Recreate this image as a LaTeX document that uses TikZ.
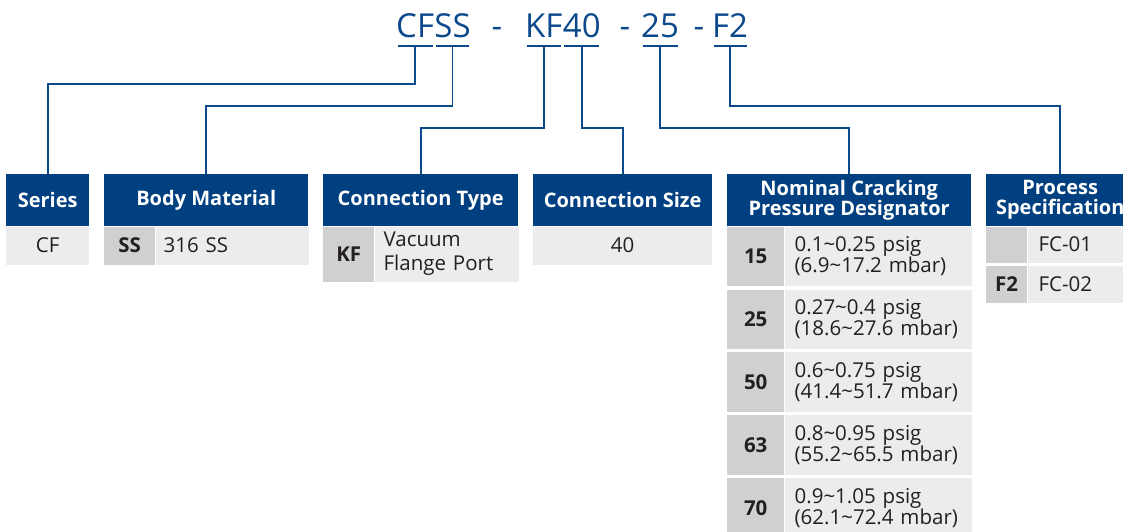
\documentclass[tikz,border=0pt]{standalone}
\usepackage{fontspec}
\setmainfont{Open Sans}
\usetikzlibrary{positioning}
\definecolor{navy}{RGB}{0,64,128}
\definecolor{codeblue}{RGB}{12,72,140}
\definecolor{codegray}{RGB}{208,208,210}
\definecolor{valgray}{RGB}{235,236,238}
\definecolor{ink}{RGB}{35,31,32}

\begin{document}
\begin{tikzpicture}[x=1pt, y=-1pt,
                part/.style={text=codeblue, font=\fontsize{33}{33}\selectfont, inner sep=0pt, anchor=base west},
                header/.style={fill=navy, text=white, font=\fontsize{20}{20}\selectfont\bfseries, align=center, inner sep=0pt, minimum height=52pt, anchor=north west},
                codecell/.style={fill=codegray, text=ink, font=\fontsize{20.5}{21}\selectfont\bfseries, inner sep=0pt},
                valcell/.style={fill=valgray, text=ink, font=\fontsize{20.5}{21}\selectfont, inner ysep=0pt, align=left},
                uline/.style={draw=codeblue, line width=1.6pt},
                link/.style={draw=codeblue, line width=1.6pt},
                ]
                \useasboundingbox (0,0) rectangle (1123,531);
                \clip (0,0) rectangle (1123,531);

                % part number
                \node[part] (pser) at (396,37) {CF};
                \node[part] (pmat) at (pser.base east) {SS};
                \node[part, anchor=base] (dash1) at (497,37) {-};
                \node[part] (pconn) at (525,37) {KF};
                \node[part] (psize) at (pconn.base east) {40};
                \node[part, anchor=base] (dash2) at (625,37) {-};
                \node[part] (ppress) at (641,37) {25};
                \node[part, anchor=base] (dash3) at (699,37) {-};
                \node[part] (pspec) at (712,37) {F2};
                \foreach \p in {pser,pmat,pconn,psize,ppress,pspec}
                    \draw[uline] ([xshift=1.5pt,yshift=-9pt]\p.base west) -- ([xshift=-1.5pt,yshift=-9pt]\p.base east);

                % headers
                \node[header, minimum width=83pt] (series) at (6,174) {Series};
                \node[header, minimum width=204pt] (material) at (104,174) {Body Material};
                \node[header, minimum width=195pt] (conntype) at (323,174) {Connection Type};
                \node[header, minimum width=179pt] (connsize) at (533,174) {Connection Size};
                \node[header, minimum width=244pt] (cracking) at (727,174) {Nominal Cracking\\Pressure Designator};
                \node[header, minimum width=148pt] (process) at (986,174) {Process\\Specification};

                % series
                \node[valcell, anchor=north west, text width=83pt, inner xsep=0pt, align=center, minimum height=38pt] (cf) at (series.south west) {CF};

                % body material
                \node[codecell, anchor=north west, minimum width=51pt, minimum height=38pt] (ss) at (material.south west) {SS};
                \node[valcell, right=0pt of ss, text width=137pt, inner xsep=8pt, minimum height=38pt] (ssval) {316 SS};

                % connection type
                \node[codecell, anchor=north west, minimum width=51pt, minimum height=55pt] (kf) at (conntype.south west) {KF};
                \node[valcell, right=0pt of kf, text width=126pt, inner xsep=9pt, minimum height=55pt, font=\fontsize{20.5}{24}\selectfont] (kfval) {Vacuum\\Flange Port};

                % connection size
                \node[valcell, anchor=north west, text width=179pt, inner xsep=0pt, align=center, minimum height=38pt] (size40) at (connsize.south west) {40};

                % cracking pressure
                \node[codecell, anchor=north west, minimum width=57pt, minimum height=59.5pt] (n15) at (cracking.south west) {15};
                \node[valcell, right=0pt of n15, text width=167pt, inner xsep=10pt, minimum height=59.5pt] (v15) {0.1\textasciitilde0.25 psig\\(6.9\textasciitilde17.2 mbar)};
                \node[codecell, below=3pt of n15, minimum width=57pt, minimum height=59.5pt] (n25) {25};
                \node[valcell, right=0pt of n25, text width=167pt, inner xsep=10pt, minimum height=59.5pt] (v25) {0.27\textasciitilde0.4 psig\\(18.6\textasciitilde27.6 mbar)};
                \node[codecell, below=3pt of n25, minimum width=57pt, minimum height=59.5pt] (n50) {50};
                \node[valcell, right=0pt of n50, text width=167pt, inner xsep=10pt, minimum height=59.5pt] (v50) {0.6\textasciitilde0.75 psig\\(41.4\textasciitilde51.7 mbar)};
                \node[codecell, below=3pt of n50, minimum width=57pt, minimum height=59.5pt] (n63) {63};
                \node[valcell, right=0pt of n63, text width=167pt, inner xsep=10pt, minimum height=59.5pt] (v63) {0.8\textasciitilde0.95 psig\\(55.2\textasciitilde65.5 mbar)};
                \node[codecell, below=3pt of n63, minimum width=57pt, minimum height=59.5pt] (n70) {70};
                \node[valcell, right=0pt of n70, text width=167pt, inner xsep=10pt, minimum height=59.5pt] (v70) {0.9\textasciitilde1.05 psig\\(62.1\textasciitilde72.4 mbar)};

                % process specification
                \node[codecell, anchor=north west, minimum width=41pt, minimum height=36pt] (fnone) at (process.south west) {};
                \node[valcell, right=0pt of fnone, text width=85pt, inner xsep=11pt, minimum height=36pt] (fc01) {FC-01};
                \node[codecell, below=3pt of fnone, minimum width=41pt, minimum height=37pt] (f2) {F2};
                \node[valcell, right=0pt of f2, text width=85pt, inner xsep=11pt, minimum height=37pt] (fc02) {FC-02};

                % connectors
                \draw[link] ([yshift=-9pt]pser.base) -- ++(0,38) -| (series.north);
                \draw[link] ([yshift=-9pt]pmat.base) -- ++(0,60) -| (material.north);
                \draw[link] ([yshift=-9pt]pconn.base) -- ++(0,82) -| (conntype.north);
                \draw[link] ([yshift=-9pt]psize.base) -- ++(0,82) -| (connsize.north);
                \draw[link] ([yshift=-9pt]ppress.base) -- ++(0,82) -| (cracking.north);
                \draw[link] ([yshift=-9pt]pspec.base) -- ++(0,60) -| (process.north);
            \end{tikzpicture}
\end{document}
